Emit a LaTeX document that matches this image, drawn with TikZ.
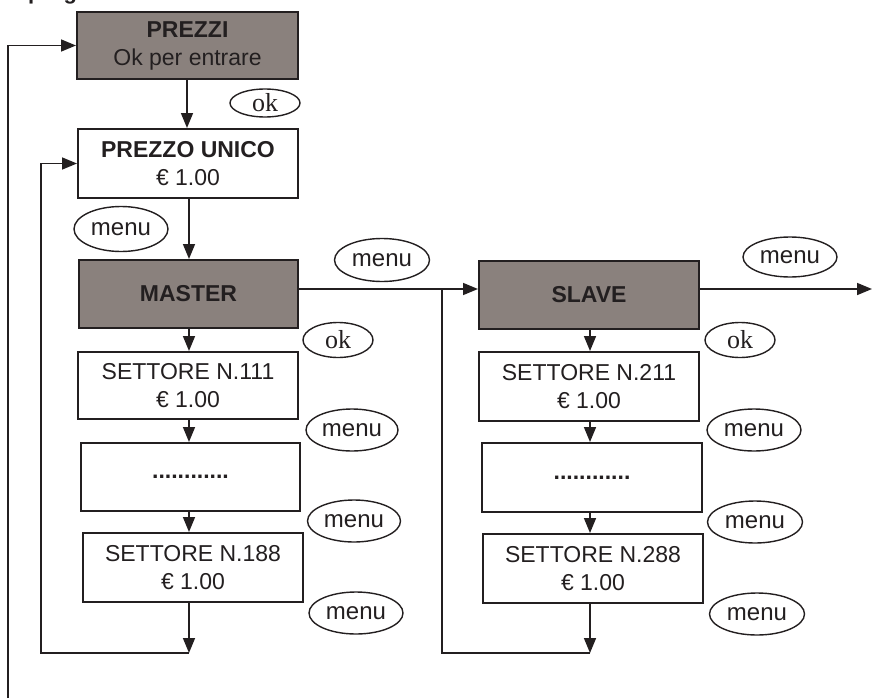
\documentclass[tikz,border=0pt]{standalone}
\usepackage{fontspec}
\setmainfont{Liberation Sans}
\newfontfamily\okfont{Liberation Serif}
\usetikzlibrary{arrows.meta,shapes.geometric}
\definecolor{ink}{RGB}{35,31,32}
\definecolor{boxgray}{RGB}{138,129,125}
\begin{document}
\begin{tikzpicture}[x=1pt,y=-1pt,
  box/.style={draw=ink, line width=2pt, rectangle, minimum width=220pt, minimum height=68pt, inner sep=0pt, align=center, text=ink, font=\fontsize{23}{28}\selectfont},
  graybox/.style={box, fill=boxgray},
  key/.style={draw=ink, line width=1.4pt, ellipse, inner sep=0pt, text=ink, minimum width=94pt, minimum height=42pt, font=\fontsize{24}{26}\selectfont},
  okkey/.style={key, minimum width=70pt, minimum height=35pt, font=\okfont\fontsize{26}{26}\selectfont},
  conn/.style={draw=ink, line width=1.6pt},
  arr/.style={conn, -{Triangle[length=15pt,width=12pt]}}
]
\useasboundingbox (0,0) rectangle (874,698);
\begin{scope}
\clip (0,0) rectangle (874,698);
\node[anchor=base west, inner sep=0pt, text=ink, font=\bfseries\fontsize{22}{26}\selectfont] (title) at (28,-0.6) {programmazione};
\end{scope}

% boxes
\node[graybox, minimum width=221pt, minimum height=67pt] (prezzi) at (187.5,45.5) {\textbf{PREZZI}\\Ok per entrare};
\node[box, minimum height=69pt] (unico) at (188,163.5) {\textbf{PREZZO UNICO}\\€ 1.00};
\node[graybox, minimum width=219pt] (master) at (188.5,294) {\textbf{MASTER}};
\node[box, minimum height=67pt] (s111) at (188,385.5) {SETTORE N.111\\€ 1.00};
\node[box, minimum width=219pt] (dotsL) at (190.5,477) {\textbf{............}};
\node[box, minimum height=69pt] (s188) at (193,567.5) {SETTORE N.188\\€ 1.00};
\node[graybox] (slave) at (589,295) {\textbf{SLAVE}};
\node[box, minimum height=69pt] (s211) at (589,386.5) {SETTORE N.211\\€ 1.00};
\node[box, minimum height=69pt] (dotsR) at (592,477.5) {\textbf{............}};
\node[box, minimum height=69pt] (s288) at (593,568.5) {SETTORE N.288\\€ 1.00};

% keys
\node[okkey, minimum height=28pt] (ok1) at (265,103) {ok};
\node[key, minimum height=45pt] (m1) at (121,229) {menu};
\node[key, minimum width=95pt, minimum height=43pt] (m2) at (382,260) {menu};
\node[key, minimum height=40pt] (m3) at (790,257) {menu};
\node[okkey] (ok2) at (338,340) {ok};
\node[okkey] (ok3) at (740,340) {ok};
\node[key, minimum width=92pt] (m4) at (352,430) {menu};
\node[key, minimum width=93pt] (m5) at (354,521) {menu};
\node[key] (m6) at (356,613) {menu};
\node[key] (m7) at (754,430) {menu};
\node[key, minimum width=95pt] (m8) at (755,522) {menu};
\node[key, minimum width=95pt] (m9) at (757,614) {menu};

% helper coordinates
\coordinate (colA) at (187,0);
\coordinate (colL) at (189,0);
\coordinate (colR) at (590,0);
\coordinate (hline) at (0,289);
\coordinate (endL) at (189,653);
\coordinate (endR) at (590,653);
\coordinate (loopL) at (41,653);
\coordinate (loopR) at (442,653);
\coordinate (joinR) at (442,289);
\coordinate (outerBot) at (8,698);
\coordinate (outR) at (872,289);

% vertical arrows left
\draw[arr] (prezzi.south -| colA) -- (unico.north -| colA);
\draw[arr] (unico.south -| colL) -- (master.north -| colL);
\draw[arr] (master.south -| colL) -- (s111.north -| colL);
\draw[arr] (s111.south -| colL) -- (dotsL.north -| colL);
\draw[arr] (dotsL.south -| colL) -- (s188.north -| colL);
\draw[arr] (s188.south -| colL) -- (endL);

% vertical arrows right
\draw[arr] (slave.south -| colR) -- (s211.north -| colR);
\draw[arr] (s211.south -| colR) -- (dotsR.north -| colR);
\draw[arr] (dotsR.south -| colR) -- (s288.north -| colR);
\draw[arr] (s288.south -| colR) -- (endR);

% horizontal
\draw[arr] (master.east |- hline) -- (slave.west |- hline);
\draw[arr] (slave.east |- hline) -- (outR);

% loops
\draw[arr] (endL) -- (loopL) |- (unico.west);
\draw[conn] (endR) -- (loopR) -- (joinR);
\draw[arr] (outerBot) |- (prezzi.west);
\end{tikzpicture}
\end{document}
